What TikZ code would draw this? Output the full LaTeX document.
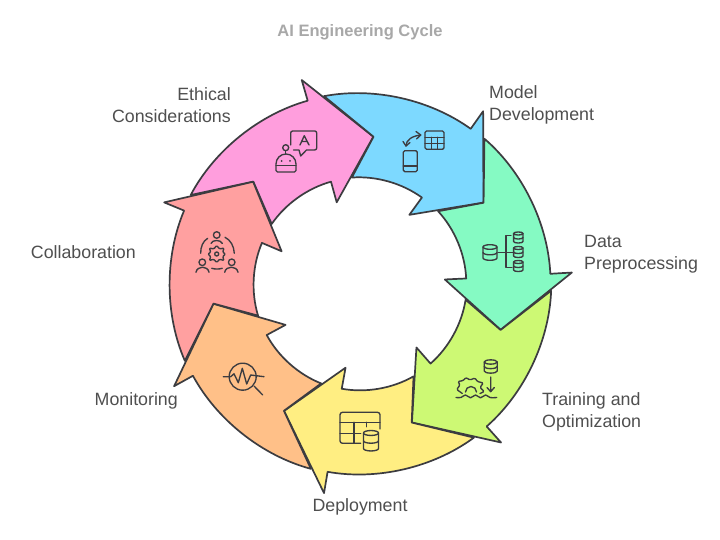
\documentclass[tikz,border=0pt]{standalone}
\usepackage{fontspec}
\setmainfont{Liberation Sans}
\definecolor{inkline}{HTML}{3C3C40}
\definecolor{labeltext}{HTML}{4F4F4F}
\definecolor{titletext}{HTML}{A8A8A8}
\definecolor{cpink}{HTML}{FF9EDD}
\definecolor{cblue}{HTML}{7DD9FF}
\definecolor{cgreen}{HTML}{85FAC3}
\definecolor{clime}{HTML}{CDF974}
\definecolor{cyellow}{HTML}{FFEE82}
\definecolor{corange}{HTML}{FFC088}
\definecolor{csalmon}{HTML}{FFA0A0}
\newcommand\dbcyl[4]{% centre x, top y, half width, height
  \draw[iconline] (#1,#2) ellipse [x radius=#3,y radius=.33*#3];
  \draw[iconline] ({#1-#3},#2) -- ({#1-#3},{#2+#4}) arc[start angle=180,end angle=0,x radius=#3,y radius=.33*#3] -- ({#1+#3},#2);
  \draw[iconline] ({#1-#3},{#2+.5*#4}) arc[start angle=180,end angle=0,x radius=#3,y radius=.33*#3];
}
\tikzset{
  x=1pt,y=1pt,
  ringarrow/.style={draw=inkline,line width=1.7pt,line join=round},
  iconline/.style={draw=inkline,line width=1.35pt,line cap=round,line join=round},
  label/.style={text=labeltext,font=\fontsize{17.8}{21.5}\selectfont,inner sep=0pt},
  titlelabel/.style={text=titletext,font=\fontsize{16.5}{20}\selectfont\bfseries,inner sep=0pt},
}
\begin{document}
\begin{tikzpicture}
\useasboundingbox[fill=white] (0,0) rectangle (720,540);
% ring of seven identical arrows
\foreach \k/\c in {0/cpink,1/cblue,2/cgreen,3/clime,4/cyellow,5/corange,6/csalmon}{
  \begin{scope}[shift={(360,256)},rotate={-\k*51.4286}]
    \draw[ringarrow,fill=\c]
      (-169.3,89) to[bend left=23.2,looseness=.86] (-52.3,183.3)
      -- (-58.3,204) -- (13.3,147.3) -- (-23.3,81.7) -- (-29,102.3)
      to[bend right=20,looseness=.86] (-88.3,60)
      -- (-106.7,102.4) -- cycle;
  \end{scope}
}
% icons, in screen coordinates
\begin{scope}[shift={(0,540)},yscale=-1]
  % robot and speech bubble
  \draw[iconline] (293.5,150) -- (299,150) -- (300.7,156) -- (306.5,150) -- (314.7,150)
     arc[start angle=90,end angle=0,radius=2] -- (316.7,133) arc[start angle=0,end angle=-90,radius=2]
     -- (292.7,131) arc[start angle=270,end angle=180,radius=2] -- (290.7,145);
  \draw[iconline] (300,145) -- (304.3,135.7) -- (309,145) (301.6,141.5) -- (307.4,141.5);
  \draw[iconline] (285.7,147.7) circle[radius=3];
  \draw[iconline] (285.7,150.7) -- (285.7,154);
  \draw[iconline] (277.5,172) arc[start angle=90,end angle=180,radius=1.5] -- (276,164)
     arc[start angle=180,end angle=360,x radius=10,y radius=10] -- (296,170.5)
     arc[start angle=0,end angle=90,radius=1.5] -- cycle;
  \draw[iconline] (276,165.5) -- (296,165.5);
  \fill[inkline] (281.7,161) circle[radius=1] (290,161) circle[radius=1];
  % phone, table and exchange arrows
  \draw[iconline,rounded corners=1.5pt] (425,131) rectangle (444,149.3);
  \draw[iconline] (425,137.3) -- (444,137.3) (425,143.3) -- (444,143.3)
     (431.3,137.3) -- (431.3,149.3) (437.7,137.3) -- (437.7,149.3);
  \draw[iconline,rounded corners=1.5pt] (403.3,150.7) rectangle (417.3,171.7);
  \draw[iconline] (403.3,166) -- (417.3,166);
  \draw[iconline] (406,146) .. controls (406,140) and (412,136) .. (420.7,135);
  \draw[iconline] (403,141.5) -- (406,146) -- (410,142.5) (416,131.5) -- (420.7,135) -- (416.5,139);
  % data cylinders
  \dbcyl{490}{247}{7}{11}
  \dbcyl{518.3}{233.5}{4.7}{8}
  \dbcyl{518.3}{248}{4.7}{8}
  \dbcyl{518.3}{262}{4.7}{8}
  \draw[iconline] (498.3,252.3) -- (513,252.3) (511,235.7) -- (506,235.7) -- (506,267.3) -- (512,267.3);
  % cylinder, arrow, gear and waves
  \dbcyl{490.7}{362}{6.5}{9}
  \draw[iconline] (490.7,377) -- (490.7,391.7) (487,387.5) -- (490.7,391.7) -- (494.3,387.5);
  \draw[iconline,rounded corners=1.2pt] (462.3,393.5) -- (456.7,389.5) -- (460,385) -- (458,381.5) -- (463.5,380.5) -- (465.7,377.5) -- (470,380)
     -- (475,378) -- (477.3,381.5) -- (483.3,383) -- (480,387.5) -- (484.3,391.5) -- (480,393.5);
  \draw[iconline] (465.5,392) arc[start angle=180,end angle=360,radius=5.5];
  \draw[iconline] plot[smooth,tension=.7] coordinates {(456,397.5) (461,397.5) (465.5,395) (470.5,397.8) (475.5,395) (480.5,397.8) (485.5,395) (490,397.5) (496.7,397.5)};
  % table and cylinder
  \draw[iconline] (360.7,443.3) -- (342.5,443.3) arc[start angle=90,end angle=180,radius=2.5] -- (340,414.8)
     arc[start angle=180,end angle=270,radius=2.5] -- (377.5,412.3) arc[start angle=270,end angle=360,radius=2.5] -- (380,429);
  \draw[iconline] (340,422.3) -- (380,422.3) (354,422.3) -- (354,443.3) (340,433.3) -- (360.7,433.3) (366.7,422.3) -- (366.7,426.7);
  \dbcyl{371}{433}{7.5}{15.5}
  % monitoring lens
  \draw[iconline] (242.7,376.7) circle[radius=13.5];
  \draw[iconline] (223.3,376.7) -- (230.7,376.7) -- (234,373.8) -- (238.3,382.7) -- (242.3,368.3) -- (246.7,384) -- (250.7,375) -- (264,376.7);
  \draw[iconline] (254,386) -- (262.7,395);
  % collaboration
  \draw[iconline] (216.7,235) circle[radius=3.3];
  \draw[iconline] (211,243.5) .. controls (212,239.5) and (221,239.5) .. (222.3,243.5);
  \draw[iconline] (202.3,262.3) circle[radius=3.3] (231.7,262.3) circle[radius=3.3];
  \draw[iconline] (196,272.3) .. controls (197,265.5) and (208,265.5) .. (209,272.3);
  \draw[iconline] (224.7,272.3) .. controls (225.7,265.5) and (237,265.5) .. (238,272.3);
  \draw[iconline] (207.7,238.3) .. controls (203,241) and (200.5,247) .. (200.7,253.3);
  \draw[iconline] (225,237.3) .. controls (230.5,240) and (234,246) .. (234.3,253.3);
  \draw[iconline] (211.7,268.3) .. controls (215,269.3) and (219,269.3) .. (222.3,268.3);
  \draw[iconline] (216.7,254) circle[radius=2];
  \draw[iconline,rounded corners=1pt] (216.7,245.5) -- (219.6,249) -- (224,248) -- (222.7,252.3) -- (225.5,254) -- (222.7,256.5) -- (224,260.5) -- (219.6,259.2) -- (216.7,262.5) -- (213.8,259.2) -- (209.4,260.5) -- (210.7,256.5) -- (207.9,254) -- (210.7,252.3) -- (209.4,248) -- (213.8,249) -- cycle;
\end{scope}
% labels
\node[titlelabel] (title) at (360,507.5) {AI Engineering Cycle};
\node[label,align=right,anchor=east] (ethical) at (231,435) {Ethical\\Considerations};
\node[label,align=left,anchor=west] (model) at (489,435) {Model\\Development};
\node[label,align=left,anchor=west] (data) at (584,286) {Data\\Preprocessing};
\node[label,align=left,anchor=west] (training) at (542,128) {Training and\\Optimization};
\node[label] (deployment) at (360,33.5) {Deployment};
\node[label,anchor=east] (monitoring) at (178,139.5) {Monitoring};
\node[label,anchor=east] (collaboration) at (136,287.5) {Collaboration};
\end{tikzpicture}
\end{document}
